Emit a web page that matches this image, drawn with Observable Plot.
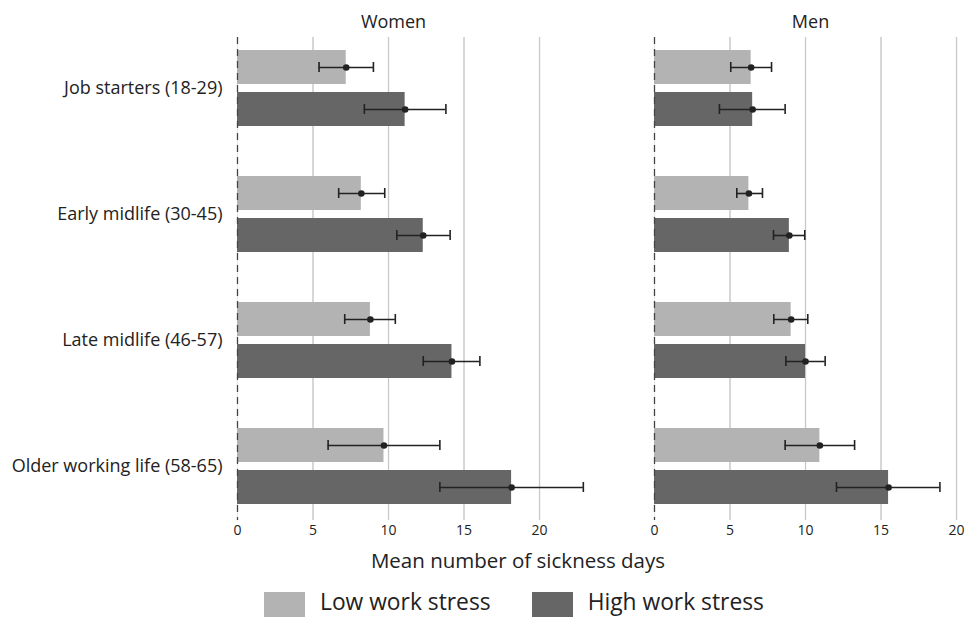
<!DOCTYPE html>
<html>
<head>
<meta charset="utf-8">
<script src="https://cdn.jsdelivr.net/npm/d3@7"></script>
<script src="https://cdn.jsdelivr.net/npm/@observablehq/plot@0.6"></script>
<style>
  html, body { margin: 0; padding: 0; background: #fff; }
  body { font-family: "Open Sans", sans-serif; color: #222; }
  #wrap { position: relative; width: 967px; height: 617px; overflow: hidden; }
  #chart { position: absolute; left: 0; top: 0; }
  #xtitle { position: absolute; left: 268px; width: 500px; top: 546px; text-align: center; font-size: 20.5px; color: #222; }
  #legend { position: absolute; left: 264px; top: 592px; display: flex; align-items: flex-start; font-size: 22.8px; color: #222; }
  .sw { width: 41px; height: 25px; display: inline-block; }
  .item { display: flex; align-items: flex-start; }
  .lab { margin-left: 15px; line-height: 22px; margin-top: -1px; }
</style>
</head>
<body>
<div id="wrap">
  <div id="chart"></div>
  <div id="xtitle">Mean number of sickness days</div>
  <div id="legend"></div>
</div>
<script>
const sexes = ["Women", "Men"];
const groups = ["Job starters (18-29)", "Early midlife (30-45)", "Late midlife (46-57)", "Older working life (58-65)"];
const stressLevels = ["Low work stress", "High work stress"];
const stressColors = ["#b3b3b3", "#666666"];

const womenLow   = [7.2, 8.2, 8.8, 9.7];
const womenLowLo = [5.4, 6.7, 7.1, 6.0];
const womenLowHi = [9.0, 9.75, 10.45, 13.4];
const womenHigh   = [11.1, 12.3, 14.2, 18.15];
const womenHighLo = [8.4, 10.55, 12.3, 13.4];
const womenHighHi = [13.8, 14.08, 16.05, 22.9];

const menLow   = [6.4, 6.25, 9.05, 10.95];
const menLowLo = [5.05, 5.45, 7.9, 8.65];
const menLowHi = [7.75, 7.15, 10.15, 13.25];
const menHigh   = [6.5, 8.93, 10.0, 15.5];
const menHighLo = [4.3, 7.88, 8.7, 12.05];
const menHighHi = [8.65, 9.95, 11.3, 18.9];

const xTicks = [0, 5, 10, 15, 20];

const series = {
  Women: [[womenLow, womenLowLo, womenLowHi], [womenHigh, womenHighLo, womenHighHi]],
  Men: [[menLow, menLowLo, menLowHi], [menHigh, menHighLo, menHighHi]]
};

const rows = [];
for (const sex of sexes) {
  groups.forEach((g, gi) => {
    stressLevels.forEach((s, si) => {
      const [m, lo, hi] = series[sex][si];
      rows.push({sex, group: g, stress: s, key: g + "|" + s, mean: m[gi], lo: lo[gi], hi: hi[gi]});
    });
  });
}

// y domain: two bars per group with a spacer band between groups
const yDomain = [];
groups.forEach((g, gi) => {
  stressLevels.forEach(s => yDomain.push(g + "|" + s));
  if (gi < groups.length - 1) yDomain.push("gap" + gi);
});

const chart = Plot.plot({
  width: 967,
  height: 545,
  marginLeft: 236,
  marginRight: 0,
  marginTop: 37,
  marginBottom: 25,
  style: {fontFamily: "Open Sans, sans-serif", fontSize: "14px", color: "#222", background: "#fff"},
  facet: {data: rows, x: "sex"},
  fx: {domain: sexes, paddingInner: 0.251, paddingOuter: 0, label: null, axis: "top", tickSize: 0, tickPadding: 10},
  x: {domain: [0, 20.66], ticks: xTicks, grid: true, tickSize: 0, tickPadding: 5, label: null},
  y: {domain: yDomain, paddingInner: 0.197, paddingOuter: 0.303, align: 0.43, axis: null},
  color: {domain: stressLevels, range: stressColors},
  marks: [
    Plot.gridX(xTicks.filter(d => d > 0), {stroke: "#c8c8c8", strokeOpacity: 1, strokeWidth: 1.3}),
    Plot.barX(rows, {x: "mean", y: "key", fill: "stress"}),
    Plot.ruleX([0], {stroke: "#444", strokeWidth: 1.3, strokeDasharray: "7,5"}),
    Plot.ruleY(rows, {x1: "lo", x2: "hi", y: "key", stroke: "#222", strokeWidth: 1.6}),
    Plot.tickX(rows, {x: "lo", y: "key", stroke: "#222", strokeWidth: 1.6, insetTop: 12, insetBottom: 12}),
    Plot.tickX(rows, {x: "hi", y: "key", stroke: "#222", strokeWidth: 1.6, insetTop: 12, insetBottom: 12}),
    Plot.dot(rows, {x: "mean", y: "key", r: 3.3, fill: "#222", stroke: "none"}),
    Plot.text(rows, Plot.filter(d => d.sex === "Women" && d.stress === stressLevels[0], {
      x: 0, y: "key", text: "group", textAnchor: "end", dx: -15, dy: 21.2, fontSize: 18, fill: "#222"
    }))
  ]
});
chart.querySelectorAll("text").forEach(t => {
  if (sexes.includes(t.textContent)) t.style.fontSize = "18px";
});
document.getElementById("chart").appendChild(chart);

const legend = document.getElementById("legend");
stressLevels.forEach((s, i) => {
  const item = document.createElement("div");
  item.className = "item";
  if (i > 0) item.style.marginLeft = "41px";
  const sw = document.createElement("span");
  sw.className = "sw";
  sw.style.background = stressColors[i];
  const lab = document.createElement("span");
  lab.className = "lab";
  lab.textContent = s;
  item.appendChild(sw);
  item.appendChild(lab);
  legend.appendChild(item);
});
</script>
</body>
</html>
